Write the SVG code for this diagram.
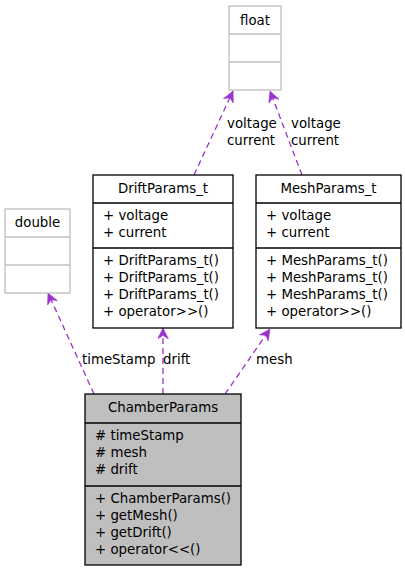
<svg xmlns="http://www.w3.org/2000/svg" width="405" height="571" viewBox="0 0 405 571">
<style>
text{font-family:"DejaVu Sans","Liberation Sans",sans-serif;font-size:13.33px;fill:#000}
.c{text-anchor:middle}
.box{fill:#fff;stroke:#000;stroke-width:1.3}
.gbox{fill:#fff;stroke:#bfbfbf;stroke-width:1.3}
.cur{fill:#bfbfbf;stroke:#000;stroke-width:1.3}
.ln{stroke:#000;stroke-width:1.3}
.gln{stroke:#bfbfbf;stroke-width:1.3}
.e{fill:none;stroke:#9a32cd;stroke-width:1.3;stroke-dasharray:6,4;marker-end:url(#ah)}
</style>
<defs>
<marker id="ah" markerUnits="userSpaceOnUse" markerWidth="12" markerHeight="12" refX="11" refY="5.5" orient="auto" viewBox="0 0 12 12">
<path d="M0,0 L11,5.5 L0,11 L3.5,5.5 Z" fill="#9a32cd" stroke="#9a32cd" stroke-width="0.5"/>
</marker>
</defs>
<g id="connectors">
<path class="e" d="M94,394 L48,293"/>
<path class="e" d="M163,394 L163,328"/>
<path class="e" d="M225,394 L270,329"/>
<path class="e" d="M194,175 L233,91"/>
<path class="e" d="M302,175 L270,91"/>
<text x="82" y="364">timeStamp</text>
<text x="163" y="364">drift</text>
<text x="256" y="364">mesh</text>
<text x="227" y="128">voltage</text>
<text x="227" y="145">current</text>
<text x="291" y="128">voltage</text>
<text x="291" y="145">current</text>
</g>
<g id="float">
<rect class="gbox" x="229" y="6" width="52" height="84"/>
<line class="gln" x1="229" y1="34" x2="281" y2="34"/>
<line class="gln" x1="229" y1="62" x2="281" y2="62"/>
<text class="c" x="255" y="25">float</text>
</g>
<g id="double">
<rect class="gbox" x="5" y="209" width="65" height="84"/>
<line class="gln" x1="5" y1="237" x2="70" y2="237"/>
<line class="gln" x1="5" y1="265" x2="70" y2="265"/>
<text class="c" x="37.5" y="227">double</text>
</g>
<g id="DriftParams_t">
<rect class="box" x="93" y="175" width="140" height="153"/>
<line class="ln" x1="93" y1="203" x2="233" y2="203"/>
<line class="ln" x1="93" y1="248" x2="233" y2="248"/>
<text class="c" x="163" y="193">DriftParams_t</text>
<text x="103" y="220">+ voltage</text>
<text x="103" y="237">+ current</text>
<text x="103" y="265">+ DriftParams_t()</text>
<text x="103" y="282">+ DriftParams_t()</text>
<text x="103" y="299">+ DriftParams_t()</text>
<text x="103" y="316">+ operator&gt;&gt;()</text>
</g>
<g id="MeshParams_t">
<rect class="box" x="256" y="175" width="145" height="153"/>
<line class="ln" x1="256" y1="203" x2="401" y2="203"/>
<line class="ln" x1="256" y1="248" x2="401" y2="248"/>
<text class="c" x="328.5" y="193">MeshParams_t</text>
<text x="266" y="220">+ voltage</text>
<text x="266" y="237">+ current</text>
<text x="266" y="265">+ MeshParams_t()</text>
<text x="266" y="282">+ MeshParams_t()</text>
<text x="266" y="299">+ MeshParams_t()</text>
<text x="266" y="316">+ operator&gt;&gt;()</text>
</g>
<g id="ChamberParams">
<rect class="cur" x="85" y="394" width="156" height="171"/>
<line class="ln" x1="85" y1="423" x2="241" y2="423"/>
<line class="ln" x1="85" y1="486" x2="241" y2="486"/>
<text class="c" x="163" y="412">ChamberParams</text>
<text x="95" y="440"># timeStamp</text>
<text x="95" y="457"># mesh</text>
<text x="95" y="474"># drift</text>
<text x="95" y="503">+ ChamberParams()</text>
<text x="95" y="520">+ getMesh()</text>
<text x="95" y="537">+ getDrift()</text>
<text x="95" y="554">+ operator&lt;&lt;()</text>
</g>
</svg>
